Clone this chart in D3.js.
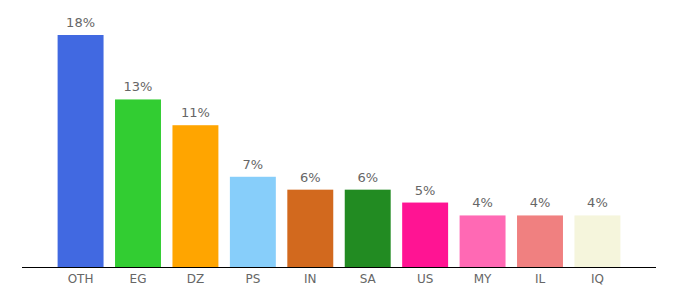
<!DOCTYPE html>
<html>
<head>
<meta charset="utf-8">
<style>
  body { margin: 0; background: #fff; }
  text { font-family: "DejaVu Sans", Verdana, sans-serif; }
</style>
</head>
<body>
<div id="chart"></div>
<script src="https://d3js.org/d3.v7.min.js"></script>
<script>
const countries = ['OTH', 'EG', 'DZ', 'PS', 'IN', 'SA', 'US', 'MY', 'IL', 'IQ'];
const shares = [18, 13, 11, 7, 6, 6, 5, 4, 4, 4];
const colors = ['#4169e1', '#32cd32', '#ffa500', '#87cefa', '#d2691e',
                '#228b22', '#ff1493', '#ff69b4', '#f08080', '#f5f5dc'];

const width = 680, height = 300;
const baseY = 267;

const svg = d3.select('#chart').append('svg')
  .attr('width', width)
  .attr('height', height);

const x = d3.scaleBand()
  .domain(countries)
  .range([22, 656])
  .paddingInner(0.2)
  .paddingOuter(0.62);

const y = d3.scaleLinear()
  .domain([0, 18])
  .range([baseY, 35]);

svg.selectAll('rect.bar')
  .data(countries)
  .join('rect')
  .attr('class', 'bar')
  .attr('x', d => x(d))
  .attr('y', (d, i) => y(shares[i]))
  .attr('width', x.bandwidth())
  .attr('height', (d, i) => baseY - y(shares[i]))
  .attr('fill', (d, i) => colors[i]);

svg.selectAll('text.val')
  .data(countries)
  .join('text')
  .attr('class', 'val')
  .attr('x', d => x(d) + x.bandwidth() / 2)
  .attr('y', (d, i) => y(shares[i]) - 8)
  .attr('text-anchor', 'middle')
  .attr('font-size', 13)
  .attr('fill', '#666')
  .text((d, i) => shares[i] + '%');

const axis = svg.append('g')
  .attr('transform', `translate(0,${baseY})`)
  .call(d3.axisBottom(x).tickSize(0).tickPadding(7));
axis.select('.domain').attr('stroke', '#000').attr('d', 'M22,0.5H656');
axis.selectAll('text')
  .attr('font-size', 12)
  .attr('fill', '#666')
  .style('font-family', '"DejaVu Sans", Verdana, sans-serif');
</script>
</body>
</html>
